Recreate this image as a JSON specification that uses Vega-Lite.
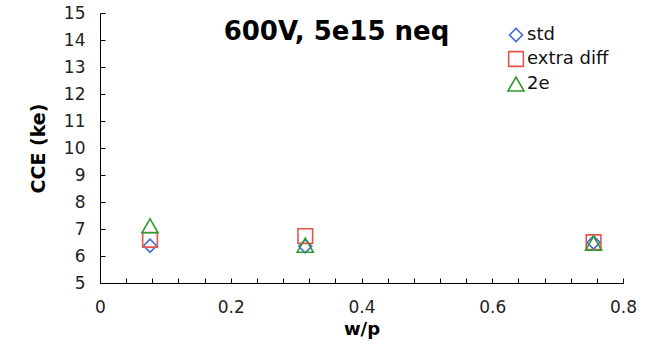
{
  "$schema": "https://vega.github.io/schema/vega-lite/v6.json",
  "width": 523,
  "height": 270,
  "autosize": "none",
  "padding": {"left": 100, "top": 13, "right": 25, "bottom": 62},
  "background": "white",
  "title": {
    "text": "600V, 5e15 neq",
    "font": "DejaVu Sans",
    "fontSize": 26,
    "fontWeight": "bold",
    "color": "#000000",
    "anchor": "middle",
    "offset": -41,
    "dx": -25
  },
  "config": {
    "view": {"stroke": null},
    "font": "DejaVu Sans"
  },
  "data": {
    "values": [
      {"wp": 0.0765, "cce": 6.38, "series": "std"},
      {"wp": 0.314, "cce": 6.36, "series": "std"},
      {"wp": 0.755, "cce": 6.5, "series": "std"},
      {"wp": 0.0765, "cce": 6.6, "series": "extra diff"},
      {"wp": 0.314, "cce": 6.74, "series": "extra diff"},
      {"wp": 0.755, "cce": 6.51, "series": "extra diff"},
      {"wp": 0.0765, "cce": 7.12, "series": "2e"},
      {"wp": 0.314, "cce": 6.4, "series": "2e"},
      {"wp": 0.755, "cce": 6.47, "series": "2e"}
    ]
  },
  "mark": {"type": "point", "filled": false, "strokeWidth": 1.6, "opacity": 1},
  "encoding": {
    "x": {
      "field": "wp",
      "type": "quantitative",
      "scale": {"domain": [0, 0.8], "nice": false, "zero": false},
      "axis": {
        "title": "w/p",
        "titleFont": "DejaVu Sans",
        "titleFontSize": 18,
        "titleFontWeight": "bold",
        "titleColor": "#000000",
        "titlePadding": 5,
        "values": [0, 0.04, 0.08, 0.12, 0.16, 0.2, 0.24, 0.28, 0.32, 0.36, 0.4, 0.44, 0.48, 0.52, 0.56, 0.6, 0.64, 0.68, 0.72, 0.76, 0.8],
        "labelExpr": "round(datum.value*100) % 20 == 0 ? datum.label : ''",
        "format": "~g",
        "labelFont": "DejaVu Sans",
        "labelFontSize": 17,
        "labelColor": "#222222",
        "labelPadding": 21,
        "tickSize": -5,
        "tickColor": "#000000",
        "domainColor": "#000000",
        "grid": false,
        "labelFlush": false,
        "labelOverlap": false
      }
    },
    "y": {
      "field": "cce",
      "type": "quantitative",
      "scale": {"domain": [5, 15], "nice": false, "zero": false},
      "axis": {
        "title": "CCE (ke)",
        "titleFont": "DejaVu Sans",
        "titleFontSize": 19,
        "titleFontWeight": "bold",
        "titleColor": "#000000",
        "titlePadding": 15,
        "values": [5, 6, 7, 8, 9, 10, 11, 12, 13, 14, 15],
        "labelFont": "DejaVu Sans",
        "labelFontSize": 17,
        "labelColor": "#222222",
        "labelPadding": 20,
        "tickSize": -5,
        "tickColor": "#000000",
        "domainColor": "#000000",
        "grid": false,
        "labelFlush": false,
        "labelOverlap": false
      }
    },
    "color": {
      "field": "series",
      "type": "nominal",
      "sort": ["std", "extra diff", "2e"],
      "scale": {"domain": ["std", "extra diff", "2e"], "range": ["#4466e0", "#e5554c", "#2f9a2f"]},
      "legend": {
        "title": null,
        "orient": "none",
        "legendX": 407,
        "legendY": 13,
        "labelFontSize": 18,
        "labelFont": "DejaVu Sans",
        "labelColor": "#111111",
        "symbolSize": 110,
        "symbolStrokeWidth": 1.6,
        "rowPadding": 3,
        "labelOffset": 2
      }
    },
    "shape": {
      "field": "series",
      "type": "nominal",
      "sort": ["std", "extra diff", "2e"],
      "scale": {"domain": ["std", "extra diff", "2e"], "range": ["diamond", "square", "triangle-up"]}
    },
    "size": {
      "field": "series",
      "type": "nominal",
      "scale": {"domain": ["std", "extra diff", "2e"], "range": [170, 260, 170]},
      "legend": null
    }
  }
}
